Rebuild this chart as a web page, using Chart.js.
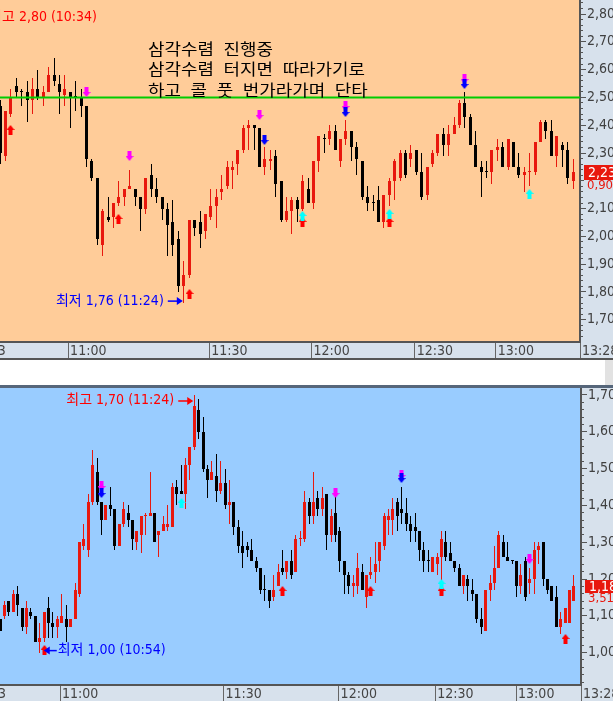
<!DOCTYPE html>
<html>
<head>
<meta charset="utf-8">
<script src="https://cdn.jsdelivr.net/npm/chart.js@4.4.0/dist/chart.umd.min.js"></script>
<style>
  html, body { margin: 0; padding: 0; background: #fff; }
  body { width: 613px; height: 701px; position: relative; overflow: hidden; }
  #topWrap { position: absolute; left: 0; top: 0; width: 613px; height: 360px; }
  #botWrap { position: absolute; left: 0; top: 388px; width: 613px; height: 313px; }
  #sep { position: absolute; left: 0; top: 385px; width: 613px; height: 3px; background: #56667a; }
  #scroll { position: absolute; left: 605px; top: 360px; width: 8px; height: 25px; background: #e2e2e2; }
</style>
</head>
<body>
<div id="topWrap"><canvas id="c1" width="613" height="360"></canvas></div>
<div id="scroll"></div>
<div id="sep"></div>
<div id="botWrap"><canvas id="c2" width="613" height="313"></canvas></div>
<script>
// upper panel candles (index 0 = left edge)
var TOP_OPEN = [
  2.47,2.29,2.44,2.54,2.52,2.52,2.49,2.53,2.50,2.52,
  2.58,2.55,2.51,2.52,2.50,2.50,2.47,2.27,2.21,1.97,
  2.07,2.07,2.12,2.14,2.17,2.17,2.14,2.10,2.22,2.17,
  2.14,2.10,2.05,1.99,1.82,1.86,2.06,2.05,2.02,2.07,
  2.11,2.16,2.18,2.24,2.26,2.31,2.39,2.40,2.39,2.25,
  2.27,2.29,2.20,2.06,2.09,2.13,2.10,2.17,2.12,2.27,
  2.35,2.35,2.38,2.27,2.35,2.38,2.32,2.27,2.14,2.12,
  2.13,2.05,2.15,2.20,2.21,2.30,2.28,2.31,2.23,2.15,
  2.26,2.30,2.37,2.33,2.37,2.40,2.48,2.43,2.33,2.25,
  2.23,2.23,2.31,2.32,2.25,2.34,2.25,2.22,2.23,2.23,
  2.34,2.41,2.38,2.29,2.33,2.31,2.20];
var TOP_HIGH = [
  2.49,2.45,2.53,2.57,2.53,2.56,2.57,2.60,2.54,2.61,
  2.64,2.58,2.58,2.52,2.56,2.53,2.47,2.28,2.21,2.10,
  2.14,2.12,2.20,2.17,2.24,2.17,2.14,2.21,2.26,2.21,
  2.14,2.12,2.13,2.02,1.91,2.06,2.06,2.09,2.08,2.17,
  2.17,2.22,2.27,2.27,2.31,2.40,2.42,2.40,2.39,2.32,
  2.31,2.31,2.20,2.14,2.14,2.14,2.22,2.21,2.27,2.36,
  2.37,2.40,2.40,2.35,2.42,2.38,2.34,2.27,2.18,2.15,
  2.18,2.15,2.21,2.28,2.31,2.31,2.33,2.31,2.30,2.25,
  2.31,2.37,2.39,2.40,2.43,2.49,2.52,2.44,2.38,2.27,
  2.27,2.31,2.35,2.34,2.35,2.34,2.30,2.25,2.30,2.34,
  2.42,2.42,2.42,2.36,2.34,2.34,2.28];
var TOP_LOW = [
  2.26,2.27,2.43,2.50,2.47,2.41,2.44,2.49,2.47,2.52,
  2.54,2.44,2.47,2.39,2.45,2.43,2.25,2.20,1.97,1.93,
  2.05,2.03,2.11,2.11,2.17,2.11,2.02,2.08,2.14,2.12,
  2.06,1.93,1.93,1.80,1.76,1.85,2.00,1.96,1.99,2.06,
  2.03,2.13,2.17,2.17,2.22,2.30,2.31,2.31,2.25,2.22,
  2.24,2.14,2.05,2.05,2.01,2.05,2.09,2.12,2.10,2.23,
  2.30,2.33,2.31,2.25,2.33,2.27,2.22,2.13,2.09,2.09,
  2.05,2.03,2.11,2.13,2.20,2.21,2.25,2.22,2.13,2.13,
  2.25,2.29,2.29,2.29,2.37,2.39,2.39,2.33,2.25,2.14,
  2.21,2.19,2.27,2.25,2.24,2.25,2.21,2.16,2.18,2.22,
  2.34,2.35,2.29,2.25,2.25,2.19,2.17];
var TOP_CLOSE = [
  2.30,2.45,2.50,2.52,2.52,2.49,2.53,2.50,2.52,2.58,
  2.56,2.52,2.53,2.50,2.50,2.47,2.28,2.21,1.99,2.09,
  2.06,2.12,2.14,2.17,2.18,2.14,2.10,2.21,2.17,2.14,
  2.10,2.04,1.97,1.82,1.86,2.06,2.03,2.01,2.08,2.11,
  2.14,2.17,2.25,2.25,2.31,2.39,2.40,2.39,2.25,2.28,
  2.28,2.19,2.06,2.09,2.13,2.10,2.20,2.12,2.27,2.36,
  2.35,2.38,2.31,2.35,2.38,2.32,2.28,2.14,2.12,2.12,
  2.05,2.15,2.20,2.27,2.30,2.22,2.30,2.23,2.14,2.25,
  2.30,2.37,2.33,2.37,2.40,2.48,2.43,2.33,2.25,2.23,
  2.23,2.31,2.32,2.25,2.35,2.25,2.22,2.23,2.23,2.34,
  2.41,2.38,2.29,2.36,2.31,2.21,2.23];
var TOP_TIME_AT = [-6.0, 12.6, 38.7, 57.6, 76.7, 91.7, 107.29];
var TOP_TIME_LABELS = ['10:43', '11:00', '11:30', '12:00', '12:30', '13:00', '13:28'];
var TOP_CHANGE = '0,90%';
var TOP_LEVEL = 2.50;
// signal arrows: [candle index, price at the arrow tip]
var TOP_PINK = [[16, 2.50], [24, 2.27], [48, 2.42], [64, 2.45], [86, 2.55]];
var TOP_BLUE = [[49, 2.33], [64, 2.43], [86, 2.53]];
var TOP_RED = [[2, 2.40], [22, 2.08], [35, 1.81], [56, 2.07], [72, 2.07]];
var TOP_CYAN = [[56, 2.09], [72, 2.10], [98, 2.17]];
var TOP_MEMO = ['삼각수렴 진행중', '삼각수렴 터지면 따라가기로', '하고 콜 풋 번가라가며 단타'];

// lower panel candles
var BOT_OPEN = [
  1.09,1.10,1.14,1.11,1.16,1.12,1.07,1.11,1.10,1.03,
  1.04,1.12,1.08,1.07,1.08,1.09,1.07,1.09,1.16,1.29,
  1.28,1.41,1.49,1.41,1.36,1.40,1.39,1.29,1.35,1.38,
  1.36,1.30,1.32,1.37,1.37,1.38,1.32,1.33,1.34,1.34,
  1.45,1.44,1.43,1.51,1.56,1.66,1.60,1.50,1.47,1.48,
  1.44,1.46,1.40,1.41,1.34,1.29,1.29,1.28,1.25,1.23,
  1.17,1.17,1.15,1.18,1.23,1.22,1.25,1.22,1.31,1.31,
  1.41,1.37,1.42,1.39,1.43,1.32,1.38,1.33,1.25,1.21,
  1.18,1.18,1.22,1.15,1.21,1.22,1.25,1.29,1.36,1.36,
  1.41,1.39,1.38,1.35,1.34,1.33,1.28,1.25,1.22,1.24,
  1.26,1.30,1.27,1.25,1.23,1.18,1.20,1.17,1.16,1.09,
  1.06,1.17,1.19,1.23,1.30,1.26,1.25,1.25,1.18,1.25,
  1.19,1.20,1.28,1.30,1.20,1.18,1.15,1.07,1.08,1.08,
  1.14];
var BOT_HIGH = [
  1.09,1.14,1.14,1.17,1.18,1.12,1.14,1.12,1.10,1.08,
  1.11,1.15,1.11,1.10,1.16,1.13,1.09,1.19,1.30,1.35,
  1.43,1.55,1.53,1.41,1.40,1.45,1.39,1.35,1.41,1.40,
  1.36,1.33,1.37,1.38,1.49,1.38,1.33,1.37,1.40,1.46,
  1.47,1.51,1.53,1.56,1.70,1.69,1.64,1.51,1.52,1.54,
  1.52,1.50,1.47,1.41,1.36,1.33,1.30,1.31,1.26,1.23,
  1.21,1.17,1.21,1.24,1.28,1.25,1.28,1.32,1.33,1.44,
  1.42,1.49,1.44,1.45,1.43,1.39,1.44,1.34,1.25,1.22,
  1.21,1.27,1.24,1.21,1.26,1.30,1.30,1.38,1.39,1.42,
  1.42,1.45,1.42,1.37,1.38,1.33,1.30,1.28,1.26,1.27,
  1.33,1.33,1.30,1.25,1.24,1.21,1.21,1.20,1.16,1.12,
  1.17,1.21,1.29,1.33,1.32,1.30,1.25,1.25,1.24,1.26,
  1.23,1.30,1.30,1.30,1.20,1.18,1.18,1.11,1.12,1.17,
  1.21];
var BOT_LOW = [
  1.06,1.09,1.10,1.11,1.10,1.06,1.05,1.09,1.03,1.00,
  1.03,1.04,1.04,1.04,1.08,1.03,1.07,1.09,1.15,1.28,
  1.26,1.40,1.40,1.32,1.36,1.37,1.28,1.29,1.34,1.34,
  1.28,1.28,1.27,1.32,1.37,1.30,1.26,1.33,1.33,1.34,
  1.40,1.43,1.39,1.47,1.55,1.58,1.49,1.42,1.47,1.41,
  1.43,1.39,1.35,1.32,1.27,1.23,1.26,1.25,1.22,1.16,
  1.14,1.12,1.14,1.18,1.21,1.20,1.20,1.22,1.29,1.30,
  1.35,1.35,1.37,1.37,1.28,1.30,1.30,1.22,1.16,1.16,
  1.15,1.16,1.17,1.12,1.20,1.19,1.22,1.28,1.32,1.32,
  1.33,1.35,1.33,1.30,1.30,1.25,1.22,1.22,1.22,1.21,
  1.19,1.25,1.25,1.22,1.18,1.16,1.14,1.14,1.08,1.05,
  1.06,1.14,1.17,1.23,1.26,1.25,1.24,1.15,1.16,1.14,
  1.16,1.16,1.24,1.18,1.16,1.14,1.07,1.05,1.08,1.08,
  1.14];
var BOT_CLOSE = [
  1.06,1.13,1.11,1.16,1.13,1.07,1.12,1.10,1.03,1.04,
  1.11,1.08,1.07,1.09,1.10,1.07,1.09,1.17,1.30,1.31,
  1.41,1.51,1.41,1.36,1.40,1.39,1.29,1.35,1.39,1.36,
  1.31,1.33,1.37,1.37,1.38,1.30,1.33,1.35,1.35,1.45,
  1.43,1.43,1.51,1.56,1.67,1.60,1.50,1.47,1.49,1.44,
  1.46,1.40,1.41,1.34,1.29,1.27,1.28,1.25,1.23,1.17,
  1.17,1.14,1.17,1.22,1.22,1.25,1.21,1.31,1.31,1.41,
  1.37,1.41,1.39,1.42,1.32,1.37,1.32,1.25,1.21,1.18,
  1.19,1.23,1.17,1.21,1.22,1.24,1.30,1.37,1.37,1.39,
  1.37,1.38,1.35,1.33,1.33,1.28,1.25,1.25,1.26,1.26,
  1.31,1.26,1.25,1.23,1.18,1.21,1.18,1.16,1.09,1.07,
  1.17,1.19,1.23,1.32,1.26,1.25,1.25,1.18,1.21,1.15,
  1.20,1.28,1.29,1.20,1.17,1.14,1.07,1.09,1.12,1.17,
  1.18];
var BOT_TIME_AT = [-7.3, 13.6, 50.6, 76.7, 98.6, 116.9, 131.6];
var BOT_TIME_LABELS = ['10:43', '11:00', '11:30', '12:00', '12:30', '13:00', '13:28'];
var BOT_CHANGE = '3,51%';
var BOT_PINK = [[23, 1.44], [76, 1.42], [91, 1.47], [120, 1.24]];
var BOT_BLUE = [[23, 1.42], [91, 1.46]];
var BOT_RED = [[10, 1.02], [64, 1.18], [84, 1.18], [100, 1.18], [128, 1.05]];
var BOT_CYAN = [[41, 1.42], [100, 1.20]];

var RED = '#E8180E', BLACK = '#000000', AXIS_BG = '#D7E1EC';
var NARROW = '"Liberation Sans Narrow", "DejaVu Sans Condensed", "Liberation Sans", "Noto Sans CJK KR", sans-serif';

function isMajor(v) { return Math.abs(v * 10 - Math.round(v * 10)) < 1e-6; }
function fmt(v) { return v.toFixed(2).replace('.', ','); }

function candleSets(o, h, l, c) {
  var col = [];
  for (var i = 0; i < c.length; i++) {
    var up;
    if (c[i] > o[i]) up = true;
    else if (c[i] < o[i]) up = false;
    else if (i > 0 && c[i] !== c[i - 1]) up = c[i] > c[i - 1];
    else up = i > 0 && col[i - 1] === RED;
    col.push(up ? RED : BLACK);
  }
  var body = [], wick = [];
  for (var j = 0; j < c.length; j++) {
    body.push({x: j, y: [Math.min(o[j], c[j]), Math.max(o[j], c[j])]});
    wick.push({x: j, y: [l[j], h[j]]});
  }
  return [
    {type: 'bar', data: body, backgroundColor: col, barThickness: 3, minBarLength: 1,
     grouped: false, borderWidth: 0, inflateAmount: 0, order: 3},
    {type: 'bar', data: wick, backgroundColor: col, barThickness: 1,
     grouped: false, borderWidth: 0, inflateAmount: 0, order: 4}
  ];
}

// arrow picture, tip sits at the image centre
function arrowImg(color, up) {
  var w = 8, stemW = 4, stemH = 5, headH = 5, h = 2 * (stemH + headH);
  var cv = document.createElement('canvas');
  cv.width = w; cv.height = h;
  var g = cv.getContext('2d');
  g.fillStyle = color;
  var sx = (w - stemW) / 2;
  g.beginPath();
  if (up) {
    g.moveTo(w / 2, h / 2); g.lineTo(w, h / 2 + headH); g.lineTo(0, h / 2 + headH);
    g.closePath(); g.fill();
    g.fillRect(sx, h / 2 + headH, stemW, stemH);
  } else {
    g.fillRect(sx, 0, stemW, stemH);
    g.moveTo(0, stemH); g.lineTo(w, stemH); g.lineTo(w / 2, h / 2);
    g.closePath(); g.fill();
  }
  return cv;
}

function arrowSet(points, img, order) {
  return {type: 'scatter', data: points.map(function (p) { return {x: p[0], y: p[1]}; }),
          pointStyle: img, pointRadius: 4, order: order, clip: false};
}

var panelPlugin = {
  id: 'panel',
  // snap candles and arrows onto whole pixels so the 1px wicks stay crisp
  afterDatasetsUpdate: function (chart) {
    chart.data.datasets.forEach(function (ds, k) {
      var meta = chart.getDatasetMeta(k);
      meta.data.forEach(function (el) {
        if (meta.type === 'bar') {
          el.x = Math.floor(el.x) + 0.5;
          var top = Math.round(Math.min(el.y, el.base)), bot = Math.round(Math.max(el.y, el.base));
          if (bot - top < 1) bot = top + 1;
          el.y = top; el.base = bot;
        } else if (meta.type === 'scatter') {
          el.x = Math.floor(el.x) + 0.5;
          el.y = Math.round(el.y);
        }
      });
    });
  },
  beforeDraw: function (chart, args, o) {
    var ctx = chart.ctx, a = chart.chartArea;
    ctx.save();
    ctx.fillStyle = AXIS_BG;
    ctx.fillRect(0, 0, chart.width, chart.height);
    ctx.fillStyle = o.plotBg;
    ctx.fillRect(a.left, a.top, a.right - a.left, a.bottom - a.top);
    ctx.restore();
  },
  afterDraw: function (chart, args, o) {
    var ctx = chart.ctx, xs = chart.scales.x, ys = chart.scales.y;
    ctx.save();
    // minor ticks on the price axis
    ctx.fillStyle = '#555';
    ys.ticks.forEach(function (t) {
      if (!isMajor(t.value)) ctx.fillRect(ys.left, Math.floor(ys.getPixelForValue(t.value)), 3, 1);
    });
    // current price tag and change
    var yc = ys.getPixelForValue(o.last);
    var top = Math.round(yc - o.tagH / 2);
    ctx.fillStyle = RED;
    ctx.fillRect(o.tagX, top, chart.width - o.tagX, o.tagH);
    ctx.fillStyle = '#fff';
    ctx.font = '14px ' + NARROW;
    ctx.textBaseline = 'middle';
    ctx.textAlign = 'left';
    ctx.fillText(fmt(o.last), o.tagX + 4, top + o.tagH / 2 + 0.5);
    var y2 = top + o.tagH;
    ctx.fillStyle = AXIS_BG;
    ctx.fillRect(o.tagX, y2, chart.width - o.tagX, 11);
    ctx.fillStyle = RED;
    ctx.font = '13px ' + NARROW;
    ctx.fillText(o.change, o.tagX + 3, y2 + 5.5);
    // high / low notes with arrows
    (o.notes || []).forEach(function (n) {
      var px = xs.getPixelForValue(n.i) + n.dx, py = ys.getPixelForValue(n.v) + n.dy;
      var s = n.dir === 'right' ? -1 : 1;
      var tail = px + s * n.len;
      ctx.strokeStyle = n.color; ctx.fillStyle = n.color; ctx.lineWidth = 1.5;
      ctx.beginPath(); ctx.moveTo(tail, py); ctx.lineTo(px + s * 5, py); ctx.stroke();
      ctx.beginPath(); ctx.moveTo(px, py); ctx.lineTo(px + s * 6, py - 4); ctx.lineTo(px + s * 6, py + 4);
      ctx.closePath(); ctx.fill();
      ctx.font = '14px ' + NARROW;
      ctx.textAlign = s < 0 ? 'right' : 'left';
      ctx.fillText(n.text, tail + s * n.gap, py + n.ty);
    });
    (o.free || []).forEach(function (f) {
      ctx.font = '14px ' + NARROW;
      ctx.textAlign = 'left';
      ctx.fillStyle = f.color;
      ctx.fillText(f.text, f.x - ctx.measureText(f.cut).width, f.y);
    });
    if (o.memo) {
      ctx.save();
      ctx.translate(o.memo.x, 0);
      ctx.scale(o.memo.stretch, 1);
      ctx.font = '16px "Noto Sans CJK KR", sans-serif';
      ctx.fillStyle = '#000';
      ctx.textAlign = 'left';
      if ('wordSpacing' in ctx) ctx.wordSpacing = '5px';
      o.memo.lines.forEach(function (line, k) {
        ctx.fillText(line, 0, o.memo.y + k * o.memo.lh);
      });
      ctx.restore();
    }
    if (o.stripLine) {
      ctx.fillStyle = '#555';
      ctx.fillRect(0, chart.height - 2, chart.width, 2);
    }
    ctx.restore();
  }
};

function makeChart(id, cfg) {
  var datasets = [].concat(
    cfg.extra || [],
    [arrowSet(cfg.blue, arrowImg('#0000FF', false), 0),
     arrowSet(cfg.cyan, arrowImg('#00FFFF', true), 0),
     arrowSet(cfg.pink, arrowImg('#FF00FF', false), 1),
     arrowSet(cfg.red, arrowImg('#FF0000', true), 1)],
    candleSets(cfg.o, cfg.h, cfg.l, cfg.c)
  );
  return new Chart(document.getElementById(id), {
    type: 'bar',
    data: {datasets: datasets},
    plugins: [panelPlugin],
    options: {
      responsive: false, animation: false, devicePixelRatio: 1, events: [],
      layout: {padding: 0, autoPadding: false},
      plugins: {
        legend: {display: false}, tooltip: {enabled: false},
        panel: cfg.panel
      },
      scales: {
        x: {
          type: 'linear', position: 'bottom', min: 0, max: cfg.xMax, offset: false,
          afterBuildTicks: function (s) { s.ticks = cfg.timeAt.map(function (v) { return {value: v}; }); },
          afterFit: function (s) { s.height = cfg.stripH; s.paddingLeft = 0; s.paddingRight = 0; },
          grid: {offset: false, drawOnChartArea: false, drawTicks: true, tickLength: cfg.stripH,
                 color: '#666', lineWidth: 1},
          border: {display: true, color: '#555', width: 2},
          ticks: {autoSkip: false, maxRotation: 0, minRotation: 0, align: 'start', labelOffset: 2,
                  padding: -cfg.stripH + 1, color: '#444', font: {family: NARROW, size: 14},
                  callback: function (v, i) { return cfg.timeLabels[i]; }}
        },
        y: {
          type: 'linear', position: 'right', min: cfg.yMin, max: cfg.yMax,
          afterBuildTicks: function (s) {
            var t = [];
            for (var k = Math.ceil(cfg.yMin * 50); k <= Math.floor(cfg.yMax * 50); k++) t.push({value: k / 50});
            s.ticks = t;
          },
          afterFit: function (s) { s.width = cfg.axisW; s.paddingTop = 0; s.paddingBottom = 0; },
          grid: {drawOnChartArea: false, drawTicks: true, tickLength: 6,
                 tickColor: function (c) { return isMajor(c.tick.value) ? '#555' : 'rgba(0,0,0,0)'; }},
          border: {display: true, color: '#555', width: 2},
          ticks: {autoSkip: false, padding: 1, color: '#404040', font: {family: NARROW, size: 14},
                  callback: function (v) { return isMajor(v) ? fmt(v) : ''; }}
        }
      }
    }
  });
}

makeChart('c1', {
  o: TOP_OPEN, h: TOP_HIGH, l: TOP_LOW, c: TOP_CLOSE,
  pink: TOP_PINK, blue: TOP_BLUE, red: TOP_RED, cyan: TOP_CYAN,
  extra: [{type: 'line', data: [{x: 0, y: TOP_LEVEL}, {x: 107.29, y: TOP_LEVEL}],
           borderColor: '#00CC00', borderWidth: 2, pointRadius: 0, order: 2}],
  xMax: 107.29, yMin: 1.6201, yMax: 2.8504, axisW: 33, stripH: 18,
  timeAt: TOP_TIME_AT, timeLabels: TOP_TIME_LABELS,
  panel: {
    plotBg: '#FFCC99', last: TOP_CLOSE[TOP_CLOSE.length - 1], change: TOP_CHANGE,
    tagX: 584, tagH: 15, stripLine: true,
    notes: [{i: 34, v: 1.76, text: '최저 1,76 (11:24)', color: '#0000FF', dir: 'right',
             dx: -1, dy: -2, len: 15, gap: 4, ty: 0}],
    free: [{text: '최고 2,80 (10:34)', cut: '최', x: 2, y: 17, color: '#FF0000'}],
    memo: {lines: TOP_MEMO, x: 148, y: 48.5, lh: 20.5, stretch: 1.12}
  }
});

makeChart('c2', {
  o: BOT_OPEN, h: BOT_HIGH, l: BOT_LOW, c: BOT_CLOSE,
  pink: BOT_PINK, blue: BOT_BLUE, red: BOT_RED, cyan: BOT_CYAN,
  xMax: 131.6, yMin: 0.912, yMax: 1.719, axisW: 32, stripH: 16,
  timeAt: BOT_TIME_AT, timeLabels: BOT_TIME_LABELS,
  panel: {
    plotBg: '#99CCFF', last: BOT_CLOSE[BOT_CLOSE.length - 1], change: BOT_CHANGE,
    tagX: 585, tagH: 13, stripLine: false,
    notes: [
      {i: 44, v: 1.70, text: '최고 1,70 (11:24)', color: '#FF0000', dir: 'right',
       dx: -1, dy: 6, len: 15, gap: 4, ty: -1},
      {i: 9, v: 1.00, text: '최저 1,00 (10:54)', color: '#0000FF', dir: 'left',
       dx: 4, dy: -2, len: 13, gap: 1, ty: 0}
    ]
  }
});
</script>
</body>
</html>
